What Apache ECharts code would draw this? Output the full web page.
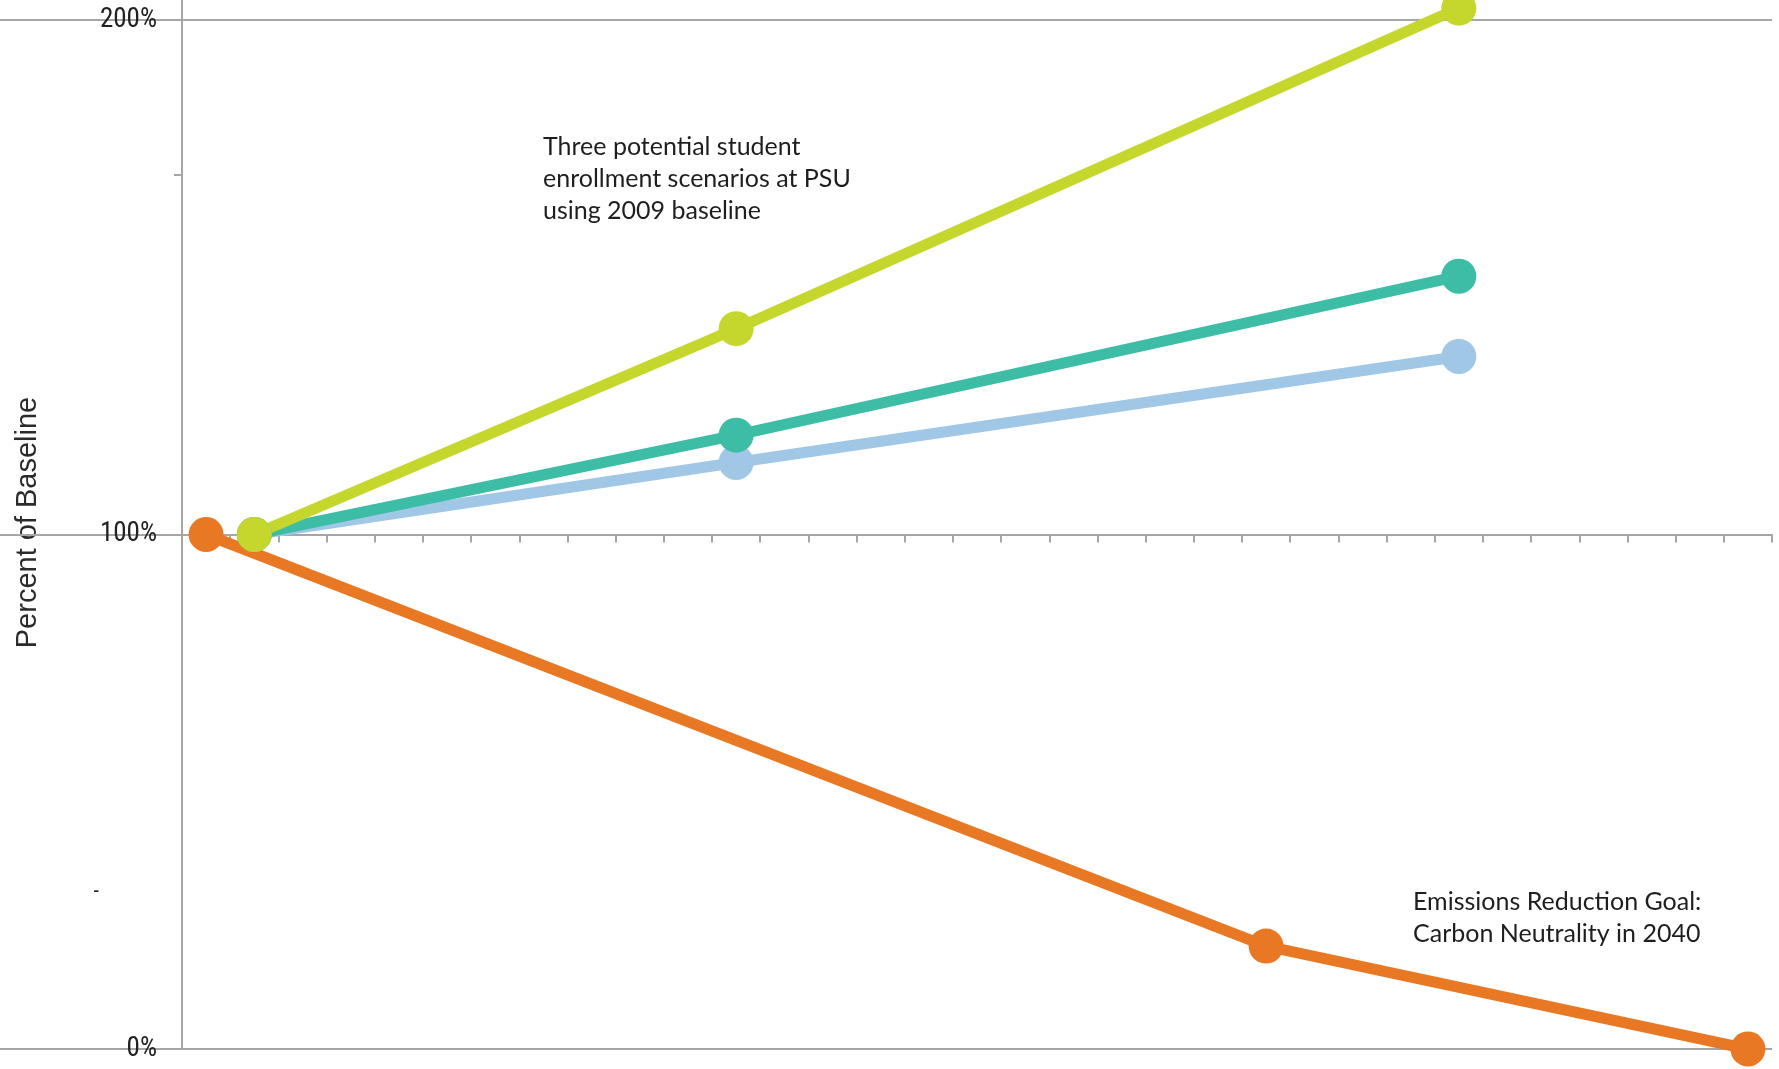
<!DOCTYPE html>
<html>
<head>
<meta charset="utf-8">
<script src="https://cdn.jsdelivr.net/npm/echarts@6/dist/echarts.min.js"></script>
<style>
  html, body { margin: 0; padding: 0; background: #ffffff; }
  #chart { width: 1779px; height: 1069px; }
</style>
</head>
<body>
<div id="chart"></div>
<script>
// ---- data ----
const years = ['2008','2009','2010','2011','2012','2013','2014','2015','2016','2017','2018',
  '2019','2020','2021','2022','2023','2024','2025','2026','2027','2028','2029','2030',
  '2031','2032','2033','2034','2035','2036','2037','2038','2039','2040'];
const emissionsGoal = [['2008', 100], ['2030', 20], ['2040', 0]];
const enrollmentLow = [['2009', 100], ['2019', 114], ['2034', 134.6]];
const enrollmentMid = [['2009', 100], ['2019', 119.3], ['2034', 150.2]];
const enrollmentHigh = [['2009', 100], ['2019', 140], ['2034', 202.3]];
const yTickValues = [0, 100, 200];
const yMinorTick = [170];
const yStrayLabel = [30.5];
const yAxisName = 'Percent of Baseline';
const noteEnrollment = 'Three potential student\nenrollment scenarios at PSU\nusing 2009 baseline';
const noteEmissions = 'Emissions Reduction Goal:\nCarbon Neutrality in 2040';

// ---- styles ----
const GRID = '#a6a6aa';
const W = 1779, H = 1069;
const gridTop = 20, gridBottom = 20, gridLeft = 182, gridRight = 7;
const gridH = H - gridTop - gridBottom;
const condensed = '"Roboto Condensed", "DejaVu Sans Condensed", "Liberation Sans Narrow", sans-serif';
const noteFont = '25px Lato, "Open Sans", sans-serif';

const chart = echarts.init(document.getElementById('chart'), null, { renderer: 'canvas', width: W, height: H });

function lineSeries(name, data, color) {
  return {
    name: name,
    type: 'line',
    data: data,
    clip: false,
    symbol: 'circle',
    symbolSize: 35,
    showSymbol: true,
    showAllSymbol: true,
    lineStyle: { color: color, width: 11 },
    itemStyle: { color: color, opacity: 1 },
    emphasis: { disabled: true },
    silent: true
  };
}

chart.setOption({
  animation: false,
  backgroundColor: '#ffffff',
  grid: { left: gridLeft, right: gridRight, top: gridTop, bottom: gridBottom },
  xAxis: {
    type: 'category',
    data: years,
    boundaryGap: true,
    position: 'bottom',
    offset: -gridH / 2,
    axisLine: { show: true, lineStyle: { color: GRID, width: 2 } },
    axisTick: { show: true, interval: 0, length: 8, alignWithLabel: false, lineStyle: { color: GRID, width: 2 } },
    axisLabel: { show: false, interval: 0 },
    splitLine: { show: false }
  },
  yAxis: [
    {
      type: 'value',
      min: 0, max: 200, interval: 100,
      position: 'left',
      name: yAxisName,
      nameLocation: 'middle',
      nameRotate: 90,
      nameGap: 140,
      nameTextStyle: { fontFamily: 'Liberation Sans', fontSize: 29, color: '#2b2b2b', padding: [0, 0, 0, 24] },
      axisLine: { show: true, lineStyle: { color: GRID, width: 2 } },
      axisTick: { show: true, customValues: yTickValues, length: gridLeft, lineStyle: { color: GRID, width: 2 } },
      axisLabel: {
        customValues: yTickValues,
        formatter: '{value}%',
        margin: 25,
        fontFamily: condensed,
        fontSize: 27,
        color: '#222222'
      },
      splitLine: { show: true, lineStyle: { color: GRID, width: 2 } }
    },
    {
      type: 'value',
      min: 0, max: 200,
      position: 'left',
      axisLine: { show: false },
      axisTick: { show: true, customValues: yMinorTick, length: 8, lineStyle: { color: GRID, width: 2 } },
      axisLabel: {
        customValues: yStrayLabel,
        formatter: function () { return '-'; },
        margin: 83,
        fontFamily: condensed,
        fontSize: 22,
        color: '#222222'
      },
      splitLine: { show: false }
    }
  ],
  graphic: [
    { type: 'line', silent: true, shape: { x1: gridLeft, y1: 0, x2: gridLeft, y2: gridTop }, style: { stroke: GRID, lineWidth: 2 } },
    { type: 'text', silent: true, left: 543, top: 131,
      style: { text: noteEnrollment, font: noteFont, fill: '#1e1e1e', lineHeight: 32 } },
    { type: 'text', silent: true, left: 1413, top: 886,
      style: { text: noteEmissions, font: noteFont, fill: '#1e1e1e', lineHeight: 32 } }
  ],
  series: [
    lineSeries('Emissions Reduction Goal', emissionsGoal, '#e87824'),
    lineSeries('Low enrollment', enrollmentLow, '#a0c7e6'),
    lineSeries('Mid enrollment', enrollmentMid, '#3dbda6'),
    lineSeries('High enrollment', enrollmentHigh, '#c5d62d')
  ]
});
</script>
</body>
</html>
